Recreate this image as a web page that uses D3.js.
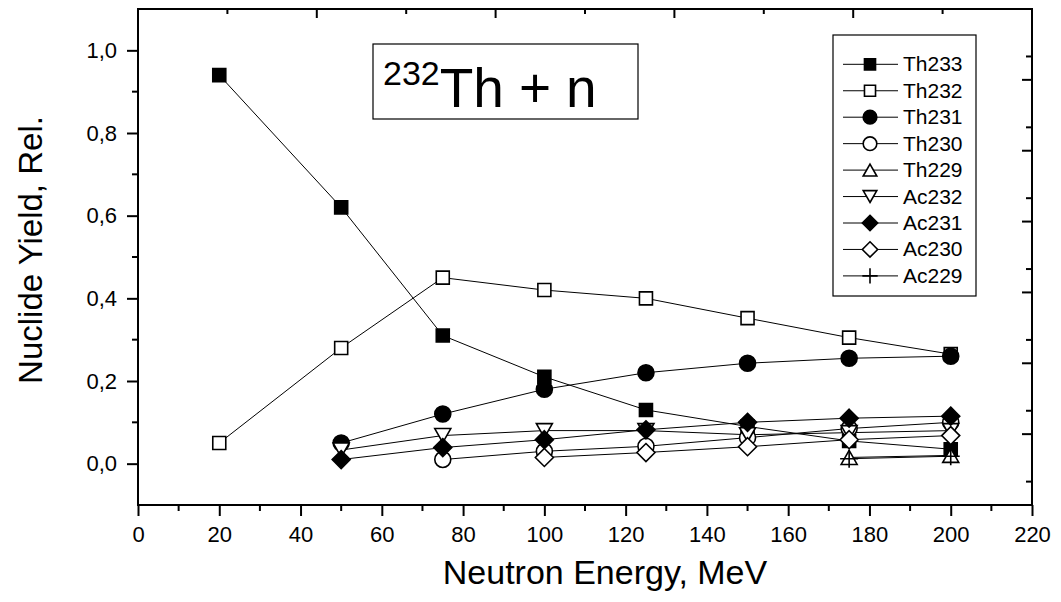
<!DOCTYPE html>
<html>
<head>
<meta charset="utf-8">
<script src="https://cdn.jsdelivr.net/npm/d3@7"></script>
<style>
  html, body { margin: 0; padding: 0; background: #fff; }
  svg { display: block; font-family: "Liberation Sans", Arial, sans-serif; }
</style>
</head>
<body>
<svg id="chart" width="1061" height="602"></svg>
<script>
// ---------- DATA ----------
const energies = [20, 50, 75, 100, 125, 150, 175, 200];
const seriesNames = ["Th233", "Th232", "Th231", "Th230", "Th229", "Ac232", "Ac231", "Ac230", "Ac229"];
const th233 = [0.94, 0.62, 0.31, 0.21, 0.13, 0.09, 0.055, 0.035];
const th232 = [0.05, 0.28, 0.45, 0.42, 0.40, 0.352, 0.305, 0.265];
const th231 = [null, 0.05, 0.12, 0.18, 0.22, 0.243, 0.255, 0.26];
const th230 = [null, null, 0.01, 0.03, 0.042, 0.063, 0.085, 0.10];
const th229 = [null, null, null, null, null, null, 0.015, 0.02];
const ac232 = [null, 0.033, 0.068, 0.08, 0.08, 0.07, 0.075, 0.08];
const ac231 = [null, 0.01, 0.039, 0.058, 0.082, 0.10, 0.11, 0.115];
const ac230 = [null, null, null, 0.015, 0.027, 0.041, 0.058, 0.068];
const ac229 = [null, null, null, null, null, null, 0.012, 0.018];
const markerTypes = ["squareFilled", "squareOpen", "circleFilled", "circleOpen", "triUpOpen", "triDownOpen", "diamondFilled", "diamondOpen", "plus"];
const xTicks = [0, 20, 40, 60, 80, 100, 120, 140, 160, 180, 200, 220];
const yTicks = [0.0, 0.2, 0.4, 0.6, 0.8, 1.0];
const xTitle = "Neutron Energy, MeV";
const yTitle = "Nuclide Yield, Rel.";

const allValues = [th233, th232, th231, th230, th229, ac232, ac231, ac230, ac229];

// ---------- LAYOUT ----------
const svg = d3.select("#chart");
const L = 138, R = 1032, T = 9, B = 505;
const x = d3.scaleLinear().domain([0, 220]).range([L, R]);
const y = d3.scaleLinear().domain([-0.1, 1.1]).range([B, T]);
const fmt = v => d3.format(".1f")(v).replace(".", ",");

// ---------- MARKERS ----------
function markerPath(type, s) {
  const p = d3.path();
  if (type.startsWith("square")) {
    const h = 6.5 * s; p.rect(-h, -h, 2 * h, 2 * h);
  } else if (type.startsWith("circle")) {
    const r = 8 * s; p.moveTo(r, 0); p.arc(0, 0, r, 0, 2 * Math.PI); p.closePath();
  } else if (type === "triUpOpen") {
    const w = 8 * s, h = 7 * s;
    p.moveTo(0, -h); p.lineTo(w, h); p.lineTo(-w, h); p.closePath();
  } else if (type === "triDownOpen") {
    const w = 8 * s, h = 7 * s;
    p.moveTo(0, h); p.lineTo(w, -h); p.lineTo(-w, -h); p.closePath();
  } else if (type.startsWith("diamond")) {
    const d = 9 * s;
    p.moveTo(0, -d); p.lineTo(d, 0); p.lineTo(0, d); p.lineTo(-d, 0); p.closePath();
  } else if (type === "plus") {
    const d = 9 * s;
    p.moveTo(-d, 0); p.lineTo(d, 0); p.moveTo(0, -d); p.lineTo(0, d);
  }
  return p.toString();
}
function drawMarker(g, type, s) {
  const filled = type.endsWith("Filled");
  g.append("path")
    .attr("d", markerPath(type, s))
    .attr("fill", type === "plus" ? "none" : (filled ? "#000" : "#fff"))
    .attr("stroke", "#000")
    .attr("stroke-width", 1.6);
}

// ---------- SERIES ----------
const line = d3.line()
  .defined(d => d.v != null)
  .x(d => x(d.e)).y(d => y(d.v));

allValues.forEach((vals, i) => {
  const pts = energies.map((e, j) => ({ e, v: vals[j] })).filter(d => d.v != null);
  svg.append("path")
    .attr("d", line(pts))
    .attr("fill", "none")
    .attr("stroke", "#000")
    .attr("stroke-width", 1);
});
allValues.forEach((vals, i) => {
  const pts = energies.map((e, j) => ({ e, v: vals[j] })).filter(d => d.v != null);
  pts.forEach(d => {
    const g = svg.append("g").attr("transform", `translate(${x(d.e)},${y(d.v)})`);
    drawMarker(g, markerTypes[i], 1);
  });
});

// ---------- AXES ----------
// bottom
const xAxis = d3.axisBottom(x).tickValues(xTicks).tickSize(11).tickPadding(10).tickFormat(d3.format("d"));
const gx = svg.append("g").attr("transform", `translate(0,${B})`).call(xAxis);
gx.selectAll(".tick text").attr("font-size", 22).attr("fill", "#000").attr("font-family", "Liberation Sans, Arial, sans-serif");
gx.selectAll(".tick line").attr("stroke-width", 2);
gx.select(".domain").remove();
const xMinor = d3.range(10, 220, 20);
svg.append("g").selectAll("line").data(xMinor).join("line")
  .attr("x1", d => x(d)).attr("x2", d => x(d)).attr("y1", B).attr("y2", B + 6)
  .attr("stroke", "#000").attr("stroke-width", 2);

// left
const yAxis = d3.axisLeft(y).tickValues(yTicks).tickSize(11).tickPadding(10).tickFormat(fmt);
const gy = svg.append("g").attr("transform", `translate(${L},0)`).call(yAxis);
gy.selectAll(".tick text").attr("font-size", 22).attr("fill", "#000").attr("font-family", "Liberation Sans, Arial, sans-serif");
gy.selectAll(".tick line").attr("stroke-width", 2);
gy.select(".domain").remove();
const yMinor = [0.1, 0.3, 0.5, 0.7, 0.9];
svg.append("g").selectAll("line").data(yMinor).join("line")
  .attr("x1", L - 6).attr("x2", L).attr("y1", d => y(d)).attr("y2", d => y(d))
  .attr("stroke", "#000").attr("stroke-width", 2);

// top (secondary, inward)
const xTop = d3.scaleLinear().domain([0, 5]).range([L, R]);
svg.append("g").selectAll("line").data(d3.range(0, 5.01, 0.5)).join("line")
  .attr("x1", d => xTop(d)).attr("x2", d => xTop(d))
  .attr("y1", T).attr("y2", d => T + (Number.isInteger(d) ? 9 : 5))
  .attr("stroke", "#000").attr("stroke-width", 2);

// right (secondary, inward)
const yRight = d3.scaleLinear().domain([0, 7]).range([B, T]);
const rightMajor = d3.range(1, 7);
const rightMinor = [0.33, 1.33, 2.33, 3.33, 4.33, 5.33, 6.33];
svg.append("g").selectAll("line").data(rightMajor).join("line")
  .attr("x1", R - 10).attr("x2", R).attr("y1", d => yRight(d)).attr("y2", d => yRight(d))
  .attr("stroke", "#000").attr("stroke-width", 2);
svg.append("g").selectAll("line").data(rightMinor).join("line")
  .attr("x1", R - 6).attr("x2", R).attr("y1", d => yRight(d)).attr("y2", d => yRight(d))
  .attr("stroke", "#000").attr("stroke-width", 2);

// frame
svg.append("rect").attr("x", L).attr("y", T).attr("width", R - L).attr("height", B - T)
  .attr("fill", "none").attr("stroke", "#000").attr("stroke-width", 2);

// titles
svg.append("text").attr("x", 605).attr("y", 584).attr("text-anchor", "middle")
  .attr("font-size", 34).text(xTitle);
svg.append("text").attr("transform", `translate(42,${250}) rotate(-90)`).attr("text-anchor", "middle")
  .attr("font-size", 33).text(yTitle);

// annotation box
svg.append("rect").attr("x", 373).attr("y", 44).attr("width", 265).attr("height", 75)
  .attr("fill", "#fff").attr("stroke", "#000").attr("stroke-width", 1.2);
const ann = svg.append("text").attr("x", 383).attr("y", 107).attr("font-size", 55);
ann.append("tspan").attr("font-size", 34).attr("dy", -22).text("232");
ann.append("tspan").attr("dy", 22).text("Th");
ann.append("tspan").attr("dx", 15).text("+");
ann.append("tspan").attr("dx", 15).text("n");

// legend
const lg = svg.append("g");
lg.append("rect").attr("x", 833).attr("y", 35).attr("width", 143).attr("height", 261)
  .attr("fill", "#fff").attr("stroke", "#000").attr("stroke-width", 1.2);
seriesNames.forEach((name, i) => {
  const yy = 64.3 + i * 26.45;
  lg.append("line").attr("x1", 843).attr("x2", 898).attr("y1", yy).attr("y2", yy)
    .attr("stroke", "#000").attr("stroke-width", 1);
  const g = lg.append("g").attr("transform", `translate(870,${yy})`);
  drawMarker(g, markerTypes[i], 0.85);
  lg.append("text").attr("x", 903).attr("y", yy + 7).attr("font-size", 21).text(name);
});
</script>
</body>
</html>
